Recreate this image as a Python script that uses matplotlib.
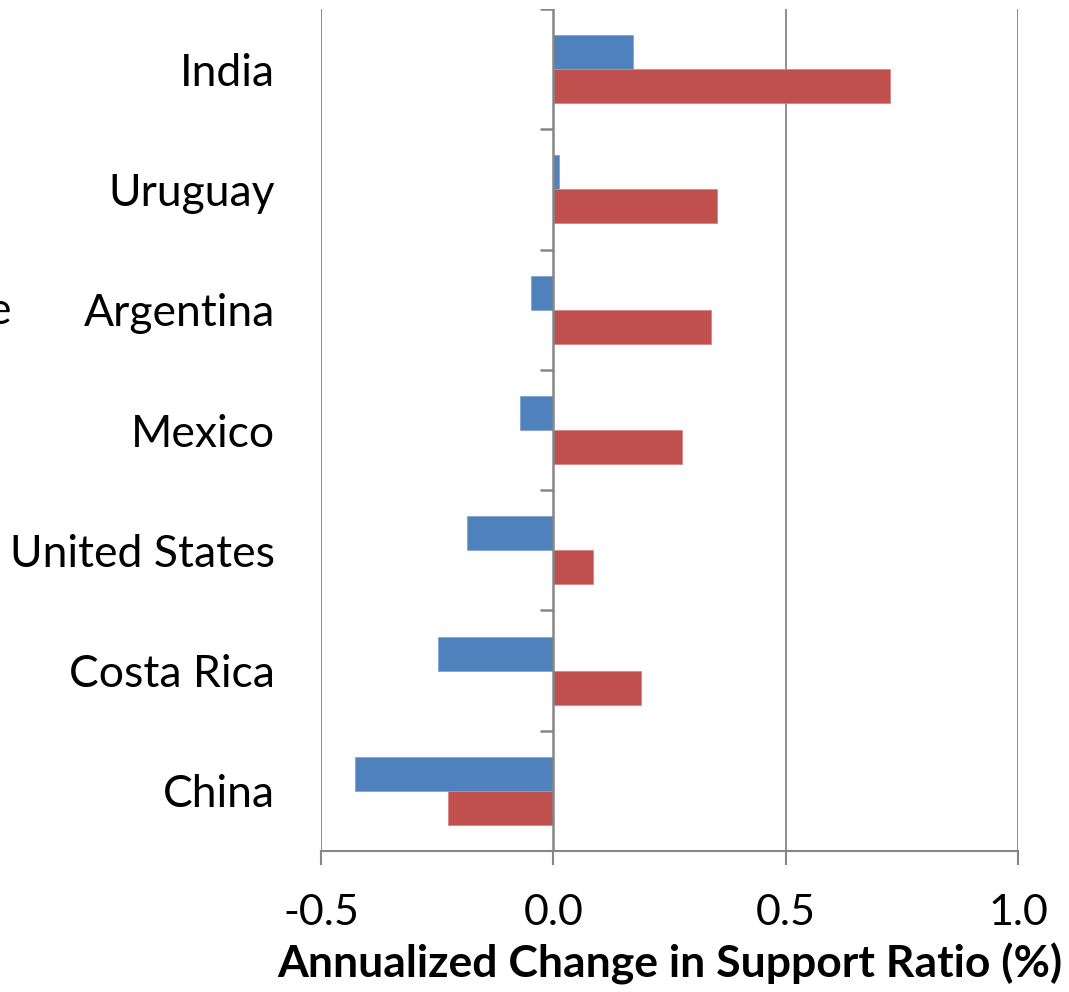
import numpy as np
import matplotlib.pyplot as plt

# countries from bottom to top
countries = ['China', 'Costa Rica', 'United States', 'Mexico', 'Argentina', 'Uruguay', 'India']
blue_vals = [-0.426, -0.249, -0.185, -0.071, -0.049, 0.013, 0.172]
red_vals = [-0.226, 0.189, 0.086, 0.277, 0.340, 0.353, 0.725]
xticks = [-0.5, 0.0, 0.5, 1.0]
xtick_labels = ['-0.5', '0.0', '0.5', '1.0']

plt.rcParams['font.family'] = ['Lato', 'DejaVu Sans']

fig = plt.figure(figsize=(10.69, 9.92), dpi=100)
ax = fig.add_axes([0.3003, 0.1421, 0.652, 0.8488])

y = np.arange(len(countries))
h = 0.283
ax.barh(y + h / 2, blue_vals, height=h, color='#4F81BD', edgecolor='#7FA3D0', linewidth=0.6, zorder=3)
ax.barh(y - h / 2, red_vals, height=h, color='#C0504D', edgecolor='#D88583', linewidth=0.6, zorder=3)

ax.set_xlim(-0.5, 1.0)
ax.set_ylim(-0.5, len(countries) - 0.5)

# gridlines and axis at zero
gray = '#868686'
for xv in xticks:
    if xv != 0:
        ax.axvline(xv, color=gray, lw=1.3, zorder=1)
ax.axvline(0, color=gray, lw=1.8, zorder=4)

# small category tick marks on the zero axis
bounds = np.arange(len(countries) + 1) - 0.5
ax.hlines(bounds, -0.028, 0, color=gray, lw=1.8, zorder=4)

for s in ['top', 'right', 'left']:
    ax.spines[s].set_visible(False)
ax.spines['bottom'].set_color(gray)
ax.spines['bottom'].set_linewidth(1.5)

ax.set_yticks(y)
ax.set_yticklabels(countries, fontsize=32)
ax.tick_params(axis='y', length=0, pad=33)

ax.set_xticks(xticks)
ax.set_xticklabels(xtick_labels, fontsize=31)
ax.tick_params(axis='x', length=10, width=1.5, color=gray, direction='out', pad=21)

ax.set_xlabel('Annualized Change in Support Ratio (%)', fontsize=32, fontweight='bold', labelpad=8)

# cut off label at left edge (as in the original)
fig.text(-0.012, 0.686, 'e', fontsize=32, ha='left', va='center')

fig.savefig('out.png', dpi=100)
